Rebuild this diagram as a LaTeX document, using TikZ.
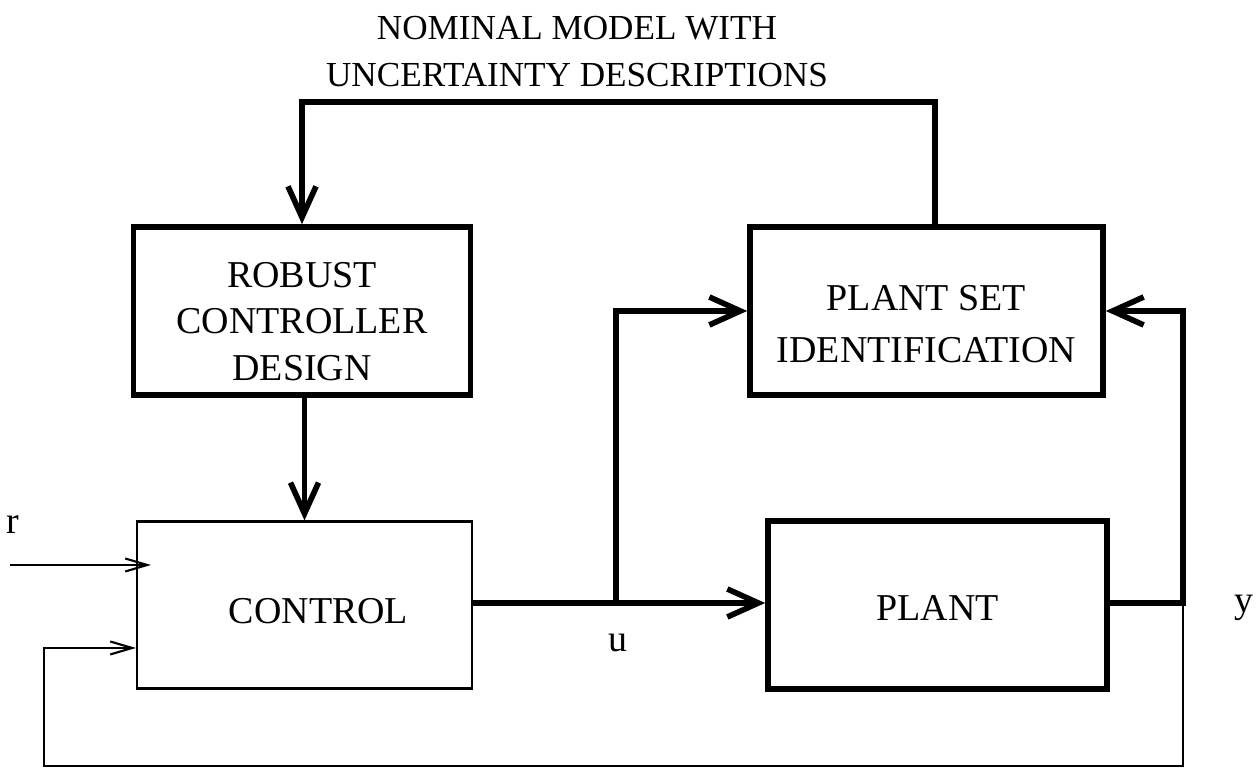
\documentclass[tikz,border=0pt]{standalone}
\usepackage{fontspec}
\setmainfont{Liberation Serif}
\usepackage{tikz}
\usetikzlibrary{arrows.meta,positioning}

\begin{document}
\begin{tikzpicture}[
  font=\fontsize{10.8}{13.2}\selectfont,
  % heavy block (design / identification / plant)
  hblk/.style={draw, line width=1.6pt, align=center, inner sep=2pt,
               minimum height=1.68cm},
  % light block (controller)
  lblk/.style={draw, line width=0.6pt, align=center, inner sep=2pt,
               minimum height=1.67cm},
  % heavy signal line
  hsig/.style={line width=1.6pt, line join=miter,
               -{Straight Barb[length=3.1mm,width=2.8mm]}},
  % light signal line
  lsig/.style={line width=0.6pt, line join=miter,
               -{Straight Barb[length=2.2mm,width=1.3mm]}},
  % plain signal name
  sname/.style={inner sep=0pt},
]

\fill[white] (0,0) rectangle (12.58,-7.72);
\useasboundingbox (0,0) rectangle (12.58,-7.72);

% strut that pushes block text down a little
\def\lift#1{\rule{0pt}{#1}}

% ── Column x-positions (block centres) ──────────────────────────────────────
\def\xL{3.02}   % left column
\def\xR{9.30}   % right column

% ── Row y-positions ─────────────────────────────────────────────────────────
\def\yT{-3.11}  % design / identification row
\def\yB{-6.05}  % controller / plant row

%% ── Title ─────────────────────────────────────────────────────────────────
\node[align=center, font=\fontsize{10}{13.4}\selectfont] (nominal) at (5.77,-0.52)
  {NOMINAL MODEL WITH\\UNCERTAINTY DESCRIPTIONS};

%% ── Blocks ────────────────────────────────────────────────────────────────
\node[hblk, minimum width=3.37cm] (robust) at (\xL,\yT)
  {\lift{13pt}ROBUST\\CONTROLLER\\DESIGN};
\node[hblk, minimum width=3.53cm,
      font=\fontsize{10.8}{14.8}\selectfont] (plantid) at (9.265,\yT)
  {\lift{14.5pt}PLANT SET\\IDENTIFICATION};
\node[lblk, minimum width=3.35cm] (control) at (3.045,\yB)
  {\lift{10.5pt}\hspace*{0.28cm}CONTROL};
\node[hblk, minimum width=3.39cm] (plant) at (9.375,\yB)
  {\lift{9pt}PLANT};

%% ── Signal names ──────────────────────────────────────────────────────────
\node[sname] (rname) at (0.13,-5.25) {r};
\node[sname] (uname) at (6.18,-6.43) {u};
\node[sname] (yname) at (12.44,-6.08) {y};

%% ── Junctions ─────────────────────────────────────────────────────────────
\coordinate (ktop) at (9.35,-1.02);
\coordinate (ubr)  at (6.16,-6.03);
\coordinate (yout) at (11.83,-6.03);
\coordinate (fbl)  at (0.44,-7.66);
\coordinate (rin)  at (0.10,-5.65);

%% ── Heavy lines ───────────────────────────────────────────────────────────
\draw[hsig] (plantid.north -| ktop) -- (ktop) -| (robust.north);
\draw[hsig] (robust.south -| control.north) -- (control.north);
\draw[hsig] (control.east |- ubr) -- (plant.west |- ubr);
\draw[hsig] (ubr) |- (plantid.west);
\draw[hsig] (plant.east |- yout) -- (yout) |- (plantid.east);

%% ── Light lines ───────────────────────────────────────────────────────────
\draw[lsig] (yout) |- (fbl) |- ([yshift=-0.43cm]control.west);
\draw[lsig, shorten >=-0.15cm] (rin) -- (rin -| control.west);

\end{tikzpicture}
\end{document}
